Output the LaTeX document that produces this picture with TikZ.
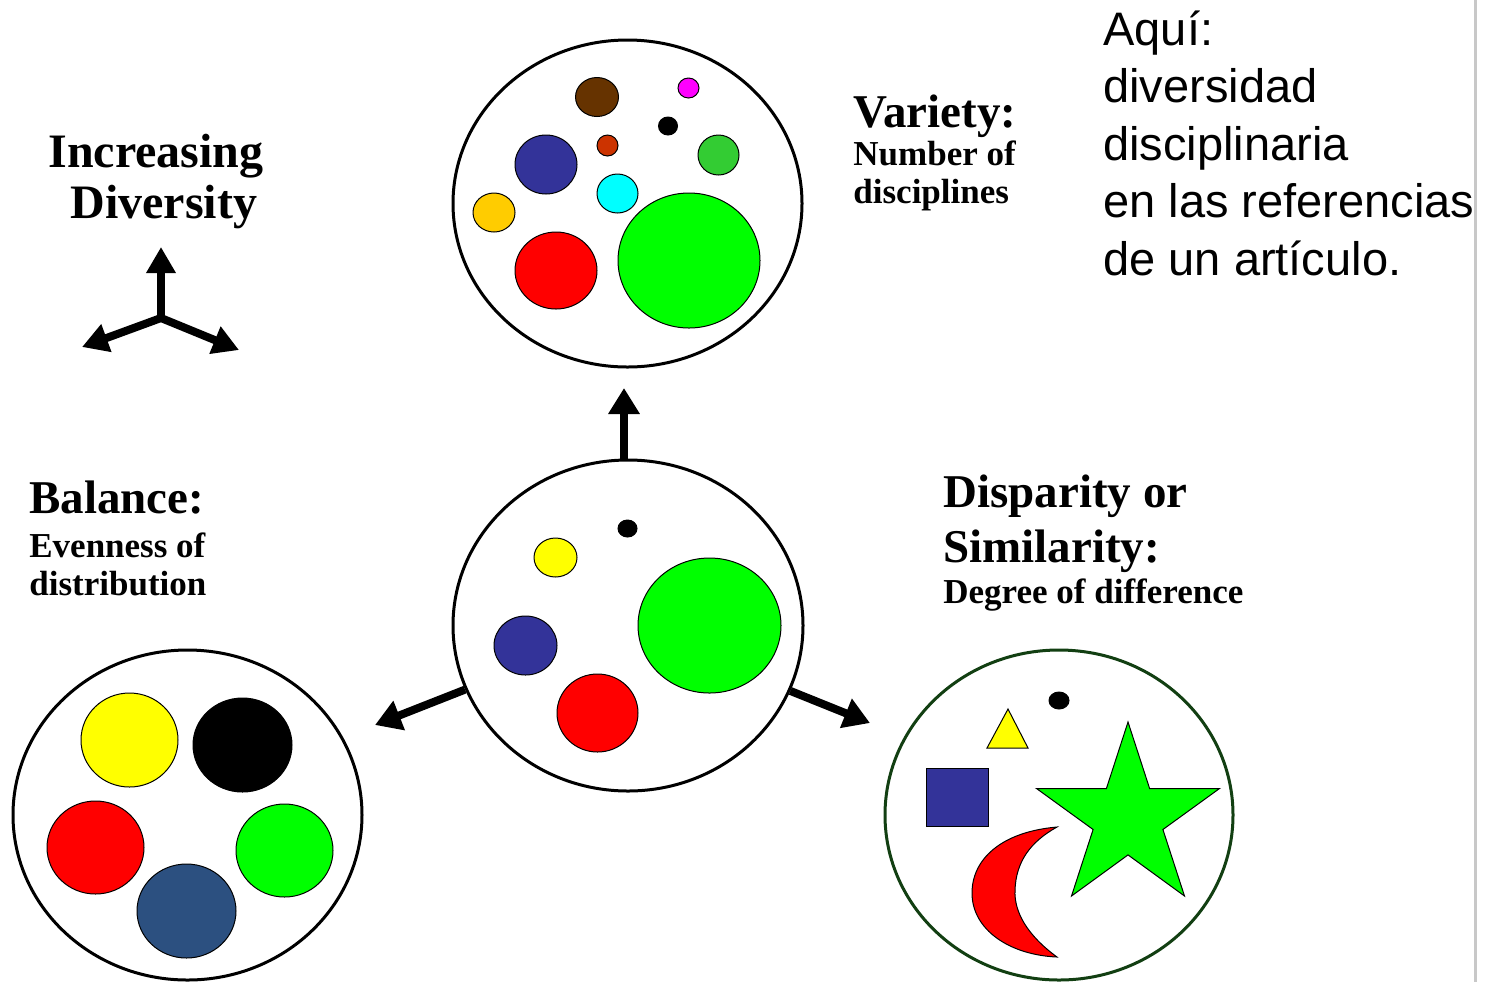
\documentclass[tikz,border=0pt]{standalone}
\usepackage{fontspec}
\setmainfont{Liberation Serif}
\newfontfamily\arialfont{Liberation Sans}
\usetikzlibrary{shapes.geometric,arrows.meta}
\definecolor{cbrown}{HTML}{663300}
\definecolor{cmag}{HTML}{FF00FF}
\definecolor{corange}{HTML}{CC3300}
\definecolor{cnavy}{HTML}{333399}
\definecolor{cmgreen}{HTML}{33CC33}
\definecolor{ccyan}{HTML}{00FFFF}
\definecolor{cgold}{HTML}{FFCC00}
\definecolor{cred}{HTML}{FF0000}
\definecolor{cgreen}{HTML}{00FF00}
\definecolor{cyellow}{HTML}{FFFF00}
\definecolor{csteel}{HTML}{2C5080}
\definecolor{cdkgreen}{HTML}{123F12}
\definecolor{cgrayline}{HTML}{C8C8C8}
\begin{document}
\begin{tikzpicture}[x=0.5pt,y=-0.5pt,
  sz/.style 2 args={minimum width=#1*0.5pt, minimum height=#2*0.5pt},
  bigc/.style={ellipse, draw, line width=1.5pt, inner sep=0pt, fill=white},
  blob/.style={ellipse, draw, line width=0.5pt, inner sep=0pt},
  shp/.style={draw, line width=0.5pt},
  arr/.style={line width=4pt, -{Triangle[width=15pt,length=13pt]}},
  arrs/.style={line width=4pt, -{Triangle[width=14pt,length=13pt]}},
  ttl/.style={anchor=base west, inner sep=0pt, font=\bfseries\fontsize{23.5}{28}\selectfont},
  sub/.style={anchor=base west, inner sep=0pt, font=\bfseries\fontsize{17.5}{21}\selectfont},
  note/.style={anchor=base west, inner sep=0pt, font=\arialfont\fontsize{23.5}{28}\selectfont}]
\path[use as bounding box, fill=white] (0,0) rectangle (1498,982);
\draw[line width=1.5pt, cgrayline] (1475,0) -- (1475,982);

% ---------- top-left symbol ----------
\node[anchor=base west, inner sep=0pt, font=\bfseries\fontsize{24}{28}\selectfont] (inc) at (48,167) {Increasing};
\node[anchor=base west, inner sep=0pt, font=\bfseries\fontsize{24}{28}\selectfont] (div) at (70,218) {Diversity};
\coordinate (o) at (161,318);
\coordinate (ou) at (161,247);
\coordinate (ol) at (82,347);
\coordinate (or) at (239,350);
\draw[arrs] (o) -- (ou);
\draw[arrs] (o) -- (ol);
\draw[arrs] (o) -- (or);

% ---------- Variety circle ----------
\node[bigc, sz={349}{327}] (var) at (627.5,203.5) {};
\node[blob, fill=cbrown, sz={43}{39}] (v1) at (597,97) {};
\node[blob, fill=cmag, sz={21}{20}] (v2) at (688.5,88) {};
\node[blob, fill=black, sz={19}{18}] (v3) at (668,126) {};
\node[blob, fill=corange, sz={21}{21}] (v4) at (607.5,145.5) {};
\node[blob, fill=cnavy, sz={62}{59}] (v5) at (546,164.5) {};
\node[blob, fill=cmgreen, sz={41}{40}] (v6) at (718.5,155) {};
\node[blob, fill=ccyan, sz={41}{39}] (v7) at (617.5,193.5) {};
\node[blob, fill=cgold, sz={42}{39}] (v8) at (494,212.5) {};
\node[blob, fill=cred, sz={82}{77}] (v9) at (556,270.5) {};
\node[blob, fill=cgreen, sz={142}{135}] (v10) at (689,260.5) {};

\node[ttl] (vt) at (853,127) {Variety:};
\node[sub] (vs1) at (853,165) {Number of};
\node[sub] (vs2) at (853,203) {disciplines};

% ---------- centre circle ----------
\node[bigc, sz={350}{331}] (mid) at (628,625.5) {};
\node[blob, fill=black, sz={19}{17}] (m1) at (627.5,528.5) {};
\node[blob, fill=cyellow, sz={43}{39}] (m2) at (555.5,557.5) {};
\node[blob, fill=cnavy, sz={63}{59}] (m3) at (525.5,645.5) {};
\node[blob, fill=cred, sz={81}{78}] (m4) at (597.5,713) {};
\node[blob, fill=cgreen, sz={143}{135}] (m5) at (709.5,625.5) {};

\coordinate (vtip) at (624,388);
\coordinate (ltip) at (375,725);
\coordinate (rtip) at (870,723);
\draw[arr] (vtip |- mid.north) -- (vtip);
\draw[arr] (mid) -- (ltip);
\draw[arr] (mid) -- (rtip);

% ---------- Balance circle ----------
\node[ttl] (bt) at (29,513) {Balance:};
\node[sub] (bs1) at (29,557) {Evenness of};
\node[sub] (bs2) at (29,595) {distribution};
\node[bigc, sz={349}{330}] (bal) at (187.5,815) {};
\node[blob, fill=cyellow, sz={97}{94}] (b1) at (129.5,740) {};
\node[blob, fill=black, sz={99}{94}] (b2) at (242.5,745) {};
\node[blob, fill=cred, sz={97}{93}] (b3) at (95.5,847.5) {};
\node[blob, fill=cgreen, sz={97}{93}] (b4) at (284.5,850.5) {};
\node[blob, fill=csteel, sz={99}{94}] (b5) at (186.5,911) {};

% ---------- Disparity circle ----------
\node[ttl] (dt1) at (943,507) {Disparity or};
\node[ttl] (dt2) at (943,562) {Similarity:};
\node[sub] (ds) at (943,603) {Degree of difference};
\node[bigc, draw=cdkgreen, sz={348}{330}] (dis) at (1059,815) {};
\node[blob, fill=black, sz={20}{17}] (d1) at (1059,700.5) {};
\draw[shp, fill=cyellow] (1008,709) -- (1028,748) -- (987,748) -- cycle;
\draw[shp, fill=cnavy] (926,768) rectangle (988,826);
\draw[shp, fill=cgreen] (1128,722) -- (1149.6,788.5) -- (1219.5,788.5) -- (1162.9,829.5)
  -- (1184.5,896) -- (1128,854.9) -- (1071.5,896) -- (1093.1,829.5)
  -- (1036.5,788.5) -- (1106.4,788.5) -- cycle;
\draw[shp, fill=cred] (1057,827) .. controls (1000,832) and (972,860) .. (972,893)
  .. controls (972,930) and (1010,955) .. (1057,957)
  .. controls (1027,935) and (1014,912) .. (1015,890)
  .. controls (1016,862) and (1030,842) .. (1057,827) -- cycle;

% ---------- note ----------
\node[note] (n1) at (1103,45) {Aquí:};
\node[note] (n2) at (1103,102) {diversidad};
\node[note] (n3) at (1103,160) {disciplinaria};
\node[note] (n4) at (1103,217) {en las referencias};
\node[note] (n5) at (1103,275) {de un artículo.};
\end{tikzpicture}
\end{document}
